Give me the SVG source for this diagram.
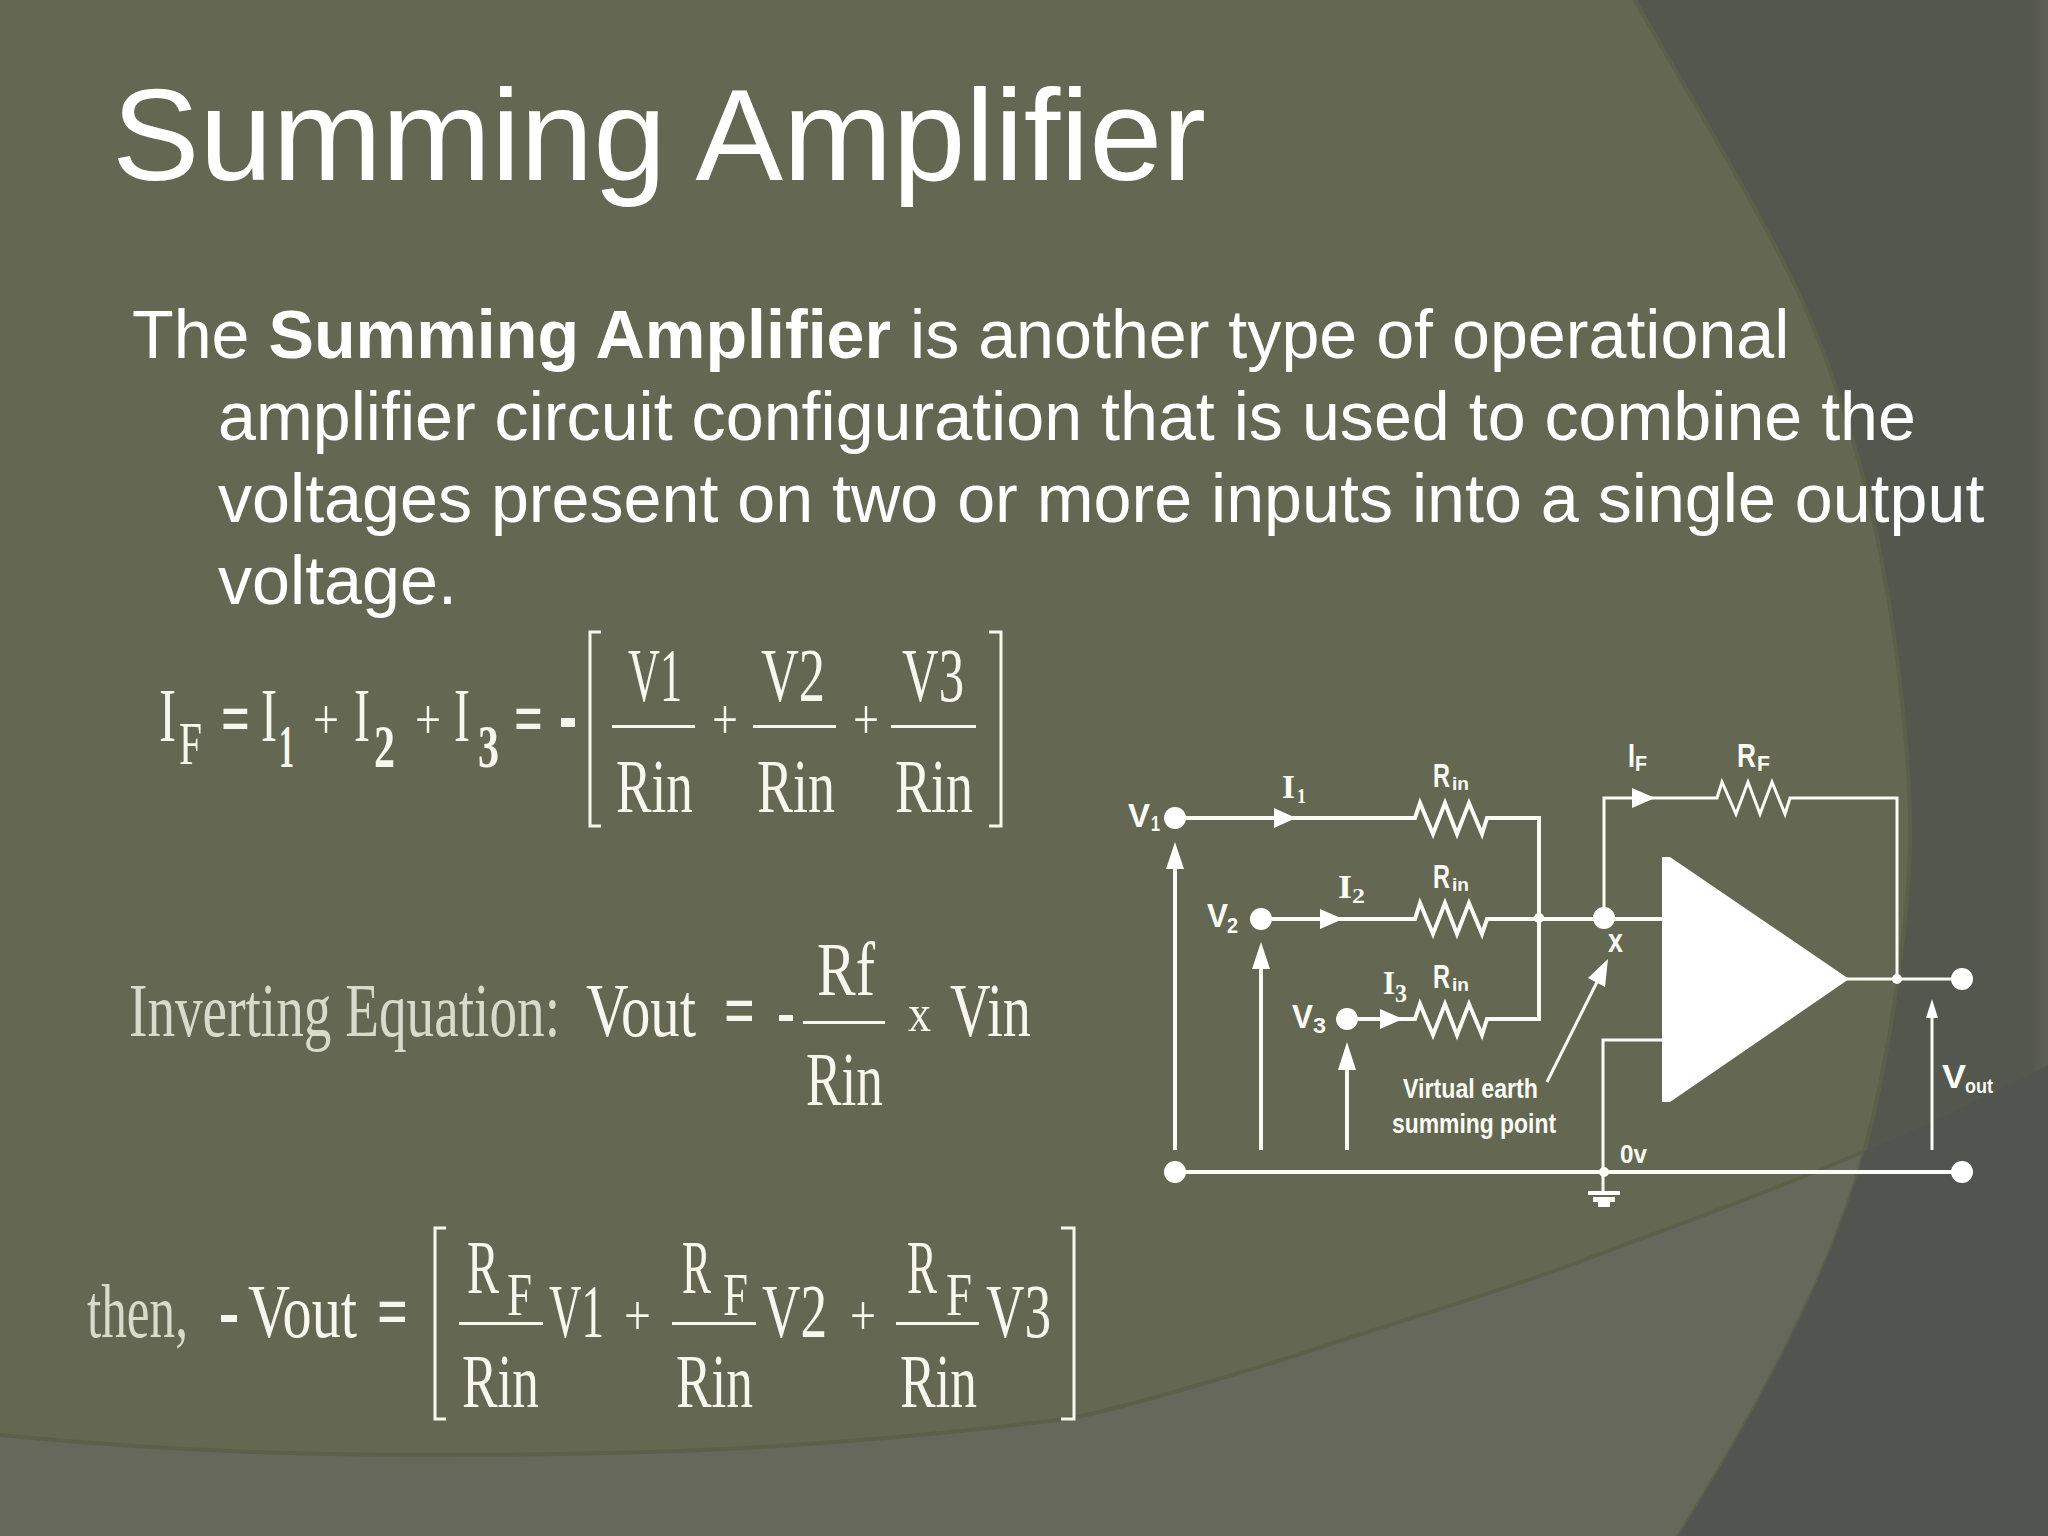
<svg xmlns="http://www.w3.org/2000/svg" width="2048" height="1536" viewBox="0 0 2048 1536">
<style>
.title{font-family:"Liberation Sans",Arial,sans-serif;font-size:130px;fill:#fff}
.body{font-family:"Liberation Sans",Arial,sans-serif;font-size:68.2px;fill:#fff}
.eq{font-family:"Liberation Serif","Times New Roman",serif;fill:#f7f7ee}
.dim{fill:#d8dacb}
.m{font-size:76px}
.s{font-size:62px}
.p{font-size:56px}
.lab{font-family:"Liberation Sans",Arial,sans-serif;font-weight:bold;fill:#fbfbf5}
.ser{font-family:"Liberation Serif","Times New Roman",serif}
.w{fill:none;stroke:#fbfbf5;stroke-width:4}
.t{fill:none;stroke:#fbfbf5;stroke-width:3}
.f{fill:#fff}
.bar{fill:#f7f7ee}
.br{fill:none;stroke:#f7f7ee;stroke-width:3}
</style>
<defs>
<path id="darkShape" d="M1629,-10 C1680,80 1760,210 1801,298 C1840,385 1870,490 1884,574 C1900,660 1912,780 1910,850 C1906,950 1885,1070 1868,1137 C1845,1230 1790,1360 1672,1546 L2060,1546 L2060,-10 Z"/>
<path id="bandShape" d="M-10,1434 C150,1450 300,1455 411,1455 C560,1455 680,1452 762,1447 C880,1440 1000,1428 1077,1417 C1120,1408 1240,1375 1342,1340 C1430,1312 1510,1288 1584,1260 C1680,1224 1780,1188 1860,1153 C1930,1125 1990,1095 2060,1059 L2060,1546 L-10,1546 Z"/>
<clipPath id="darkClip"><use href="#darkShape"/></clipPath>
<linearGradient id="edge" x1="0" x2="1" y1="0" y2="0"><stop offset="0" stop-color="#54574d"/><stop offset="1" stop-color="#5e6056"/></linearGradient>
</defs>
<g id="background">
<rect width="2048" height="1536" fill="#646852"/>
<use href="#bandShape" fill="#65685b" stroke="#5c6049" stroke-width="4"/>
<use href="#darkShape" fill="#54574d" stroke="#5c6049" stroke-width="4"/>
<rect x="2030" y="0" width="18" height="1536" fill="url(#edge)"/>
<g clip-path="url(#darkClip)"><use href="#bandShape" fill="#52554f"/></g>
</g>
<g id="heading">
<text class="title" x="112" y="180" textLength="1094" lengthAdjust="spacingAndGlyphs">Summing Amplifier</text>
<text class="body" x="132" y="358">The <tspan font-weight="bold">Summing Amplifier</tspan> is another type of operational</text>
<text class="body" x="218" y="440">amplifier circuit configuration that is used to combine the</text>
<text class="body" x="218" y="522">voltages present on two or more inputs into a single output</text>
<text class="body" x="218" y="604">voltage.</text>
</g>
<g id="equation-1">
<text class="eq m" x="159" y="741" textLength="17" lengthAdjust="spacingAndGlyphs">I</text>
<text class="eq s" x="179" y="764" textLength="23" lengthAdjust="spacingAndGlyphs">F</text>
<text class="eq m" x="221" y="744" textLength="29" lengthAdjust="spacingAndGlyphs" font-weight="bold">=</text>
<text class="eq m" x="261" y="741" textLength="16" lengthAdjust="spacingAndGlyphs">I</text>
<text class="eq s" x="279" y="767" textLength="15" lengthAdjust="spacingAndGlyphs" font-weight="bold">1</text>
<text class="eq p" x="313" y="739" textLength="26" lengthAdjust="spacingAndGlyphs">+</text>
<text class="eq m" x="354" y="741" textLength="16" lengthAdjust="spacingAndGlyphs">I</text>
<text class="eq s" x="374" y="767" textLength="21" lengthAdjust="spacingAndGlyphs" font-weight="bold">2</text>
<text class="eq p" x="415" y="739" textLength="26" lengthAdjust="spacingAndGlyphs">+</text>
<text class="eq m" x="454" y="741" textLength="16" lengthAdjust="spacingAndGlyphs">I</text>
<text class="eq s" x="478" y="767" textLength="21" lengthAdjust="spacingAndGlyphs" font-weight="bold">3</text>
<text class="eq m" x="514" y="744" textLength="29" lengthAdjust="spacingAndGlyphs" font-weight="bold">=</text>
<rect class="bar" x="561" y="718" width="14" height="9"/>
<path class="br" d="M601,632 H590 V826 H601"/>
<path class="br" d="M989,632 H1001 V826 H989"/>
<text class="eq m" x="628" y="701" textLength="54" lengthAdjust="spacingAndGlyphs">V1</text>
<rect class="bar" x="612" y="725" width="83" height="3"/>
<text class="eq m" x="616" y="812" textLength="77" lengthAdjust="spacingAndGlyphs">Rin</text>
<text class="eq p" x="712" y="739" textLength="26" lengthAdjust="spacingAndGlyphs">+</text>
<text class="eq m" x="761" y="701" textLength="64" lengthAdjust="spacingAndGlyphs">V2</text>
<rect class="bar" x="753" y="725" width="83" height="3"/>
<text class="eq m" x="757" y="812" textLength="78" lengthAdjust="spacingAndGlyphs">Rin</text>
<text class="eq p" x="853" y="739" textLength="26" lengthAdjust="spacingAndGlyphs">+</text>
<text class="eq m" x="902" y="701" textLength="62" lengthAdjust="spacingAndGlyphs">V3</text>
<rect class="bar" x="891" y="725" width="85" height="3"/>
<text class="eq m" x="895" y="812" textLength="78" lengthAdjust="spacingAndGlyphs">Rin</text>
</g>
<g id="equation-2">
<text class="eq m dim" x="129" y="1036" textLength="431" lengthAdjust="spacingAndGlyphs">Inverting Equation:</text>
<text class="eq m" x="586" y="1036" textLength="110" lengthAdjust="spacingAndGlyphs">Vout</text>
<text class="eq m" x="724" y="1036" textLength="31" lengthAdjust="spacingAndGlyphs" font-weight="bold">=</text>
<rect class="bar" x="779" y="1015" width="14" height="6"/>
<text class="eq m" x="817" y="995" textLength="58" lengthAdjust="spacingAndGlyphs">Rf</text>
<rect class="bar" x="803" y="1021" width="82" height="3"/>
<text class="eq m" x="806" y="1105" textLength="77" lengthAdjust="spacingAndGlyphs">Rin</text>
<text class="eq" x="908" y="1031" font-size="52" textLength="23" lengthAdjust="spacingAndGlyphs">x</text>
<text class="eq m" x="950" y="1036" textLength="81" lengthAdjust="spacingAndGlyphs">Vin</text>
</g>
<g id="equation-3">
<text class="eq m dim" x="87" y="1337" textLength="101" lengthAdjust="spacingAndGlyphs">then,</text>
<rect class="bar" x="221" y="1315" width="16" height="7"/>
<text class="eq m" x="248" y="1337" textLength="109" lengthAdjust="spacingAndGlyphs">Vout</text>
<text class="eq m" x="377" y="1337" textLength="31" lengthAdjust="spacingAndGlyphs" font-weight="bold">=</text>
<path class="br" d="M446,1228 H435 V1419 H446"/>
<path class="br" d="M1061,1228 H1074 V1419 H1061"/>
<text class="eq m" x="467" y="1293" textLength="32" lengthAdjust="spacingAndGlyphs">R</text>
<text class="eq s" x="507" y="1315" textLength="25" lengthAdjust="spacingAndGlyphs">F</text>
<rect class="bar" x="459" y="1322" width="84" height="3"/>
<text class="eq m" x="549" y="1337" textLength="55" lengthAdjust="spacingAndGlyphs">V1</text>
<text class="eq m" x="462" y="1407" textLength="77" lengthAdjust="spacingAndGlyphs">Rin</text>
<text class="eq p" x="624" y="1335" textLength="27" lengthAdjust="spacingAndGlyphs">+</text>
<text class="eq m" x="682" y="1293" textLength="29" lengthAdjust="spacingAndGlyphs">R</text>
<text class="eq s" x="723" y="1315" textLength="25" lengthAdjust="spacingAndGlyphs">F</text>
<rect class="bar" x="672" y="1322" width="84" height="3"/>
<text class="eq m" x="762" y="1337" textLength="65" lengthAdjust="spacingAndGlyphs">V2</text>
<text class="eq m" x="676" y="1407" textLength="77" lengthAdjust="spacingAndGlyphs">Rin</text>
<text class="eq p" x="850" y="1335" textLength="26" lengthAdjust="spacingAndGlyphs">+</text>
<text class="eq m" x="907" y="1293" textLength="30" lengthAdjust="spacingAndGlyphs">R</text>
<text class="eq s" x="946" y="1315" textLength="26" lengthAdjust="spacingAndGlyphs">F</text>
<rect class="bar" x="896" y="1322" width="83" height="3"/>
<text class="eq m" x="986" y="1337" textLength="65" lengthAdjust="spacingAndGlyphs">V3</text>
<text class="eq m" x="900" y="1407" textLength="77" lengthAdjust="spacingAndGlyphs">Rin</text>
</g>
<g id="connectors">
<path class="w" d="M1175,818 H1415 L1420,803 L1433,834 L1445,803 L1457,834 L1469,803 L1482,834 L1487,818 H1539 V1019 H1487 L1482,1035 L1469,1004 L1457,1035 L1445,1004 L1433,1035 L1420,1004 L1415,1019 H1347"/>
<path class="w" d="M1261,919 H1415 L1420,903 L1433,934 L1445,903 L1457,934 L1469,903 L1482,934 L1487,919 H1662"/>
<path class="t" d="M1604,918 V798 H1717 L1722,782 L1736,814 L1748,782 L1760,814 L1772,782 L1785,814 L1790,798 H1897 V979"/>
<path class="t" d="M1846,979 H1962"/>
<path class="t" d="M1662,1040 H1603 V1194"/>
<path class="w" d="M1175,1172 H1962"/>
<path class="w" d="M1175,1150 V860 M1261,1150 V960 M1347,1150 V1060"/>
<path class="t" d="M1932,1150 V1010 M1547,1082 L1598,980"/>
<path class="f" d="M1175,842 L1184,869 H1166 Z M1261,942 L1270,969 H1252 Z M1347,1042 L1356,1070 H1338 Z M1932,999 L1938,1018 H1926 Z"/>
<path class="f" d="M1296,818 L1274,808 V828 Z M1343,919 L1320,909 V929 Z M1403,1019 L1380,1009 V1029 Z M1655,798 L1632,788 V808 Z"/>
<path class="f" d="M1608,959 L1588,978 L1605,987 Z"/>
</g>
<g id="node-opamp"><path class="f" d="M1662,857 L1670,857 L1849,979 L1670,1102 L1662,1102 Z"/></g>
<g id="node-v1"><circle class="f" cx="1175" cy="818" r="11"/>
<text class="lab" x="1128" y="827" font-size="34" textLength="22" lengthAdjust="spacingAndGlyphs">V</text><text class="lab" x="1151" y="831" font-size="22" textLength="9" lengthAdjust="spacingAndGlyphs">1</text></g>
<g id="node-v2"><circle class="f" cx="1261" cy="919" r="11"/>
<text class="lab" x="1207" y="927" font-size="34" textLength="21" lengthAdjust="spacingAndGlyphs">V</text><text class="lab" x="1227" y="933" font-size="22" textLength="11" lengthAdjust="spacingAndGlyphs">2</text></g>
<g id="node-v3"><circle class="f" cx="1347" cy="1019" r="11"/>
<text class="lab" x="1292" y="1028" font-size="34" textLength="21" lengthAdjust="spacingAndGlyphs">V</text><text class="lab" x="1313" y="1033" font-size="22" textLength="13" lengthAdjust="spacingAndGlyphs">3</text></g>
<g id="node-common"><circle class="f" cx="1175" cy="1172" r="11"/><circle class="f" cx="1962" cy="1172" r="11"/></g>
<g id="node-output"><circle class="f" cx="1962" cy="979" r="11"/></g>
<g id="node-x"><circle class="f" cx="1604" cy="918" r="11"/>
<text class="lab" x="1608" y="952" font-size="34" textLength="15" lengthAdjust="spacingAndGlyphs">x</text></g>
<g id="junctions"><circle class="f" cx="1539" cy="918" r="5"/><circle class="f" cx="1897" cy="979" r="5"/><circle class="f" cx="1604" cy="1172" r="5"/></g>
<g id="node-ground"><path class="f" d="M1588,1191 H1620 V1195 H1588 Z M1593,1197 H1615 V1202 H1593 Z M1598,1202 H1610 V1207 H1598 Z"/></g>
<g id="labels">
<text class="lab ser" x="1282" y="798" font-size="34" textLength="13" lengthAdjust="spacingAndGlyphs">I</text><text class="lab ser" x="1297" y="803" font-size="22" textLength="9" lengthAdjust="spacingAndGlyphs">1</text>
<text class="lab ser" x="1338" y="898" font-size="34" textLength="14" lengthAdjust="spacingAndGlyphs">I</text><text class="lab ser" x="1352" y="903" font-size="22" textLength="13" lengthAdjust="spacingAndGlyphs">2</text>
<text class="lab ser" x="1383" y="994" font-size="34" textLength="12" lengthAdjust="spacingAndGlyphs">I</text><text class="lab ser" x="1395" y="1002" font-size="25" textLength="12" lengthAdjust="spacingAndGlyphs">3</text>
<text class="lab" x="1433" y="787" font-size="34" font-weight="normal" textLength="17" lengthAdjust="spacingAndGlyphs">R</text><text class="lab" x="1452" y="790" font-size="18" textLength="17" lengthAdjust="spacingAndGlyphs">in</text>
<text class="lab" x="1433" y="888" font-size="34" font-weight="normal" textLength="17" lengthAdjust="spacingAndGlyphs">R</text><text class="lab" x="1452" y="891" font-size="18" textLength="17" lengthAdjust="spacingAndGlyphs">in</text>
<text class="lab" x="1433" y="988" font-size="34" font-weight="normal" textLength="17" lengthAdjust="spacingAndGlyphs">R</text><text class="lab" x="1452" y="991" font-size="18" textLength="17" lengthAdjust="spacingAndGlyphs">in</text>
<text class="lab" x="1628" y="767" font-size="34" textLength="7" lengthAdjust="spacingAndGlyphs">I</text><text class="lab" x="1635" y="771" font-size="22" font-weight="normal" textLength="12" lengthAdjust="spacingAndGlyphs">F</text>
<text class="lab" x="1737" y="767" font-size="34" font-weight="normal" textLength="19" lengthAdjust="spacingAndGlyphs">R</text><text class="lab" x="1757" y="771" font-size="22" font-weight="normal" textLength="13" lengthAdjust="spacingAndGlyphs">F</text>
<text class="lab" x="1942" y="1088" font-size="34" textLength="24" lengthAdjust="spacingAndGlyphs">V</text><text class="lab" x="1965" y="1093" font-size="20" textLength="28" lengthAdjust="spacingAndGlyphs">out</text>
<text class="lab" x="1620" y="1163" font-size="26" textLength="27" lengthAdjust="spacingAndGlyphs">0v</text>
<text class="lab" x="1403" y="1098" font-size="27" textLength="135" lengthAdjust="spacingAndGlyphs">Virtual earth</text>
<text class="lab" x="1392" y="1133" font-size="27" textLength="164" lengthAdjust="spacingAndGlyphs">summing point</text>
</g>
</svg>
